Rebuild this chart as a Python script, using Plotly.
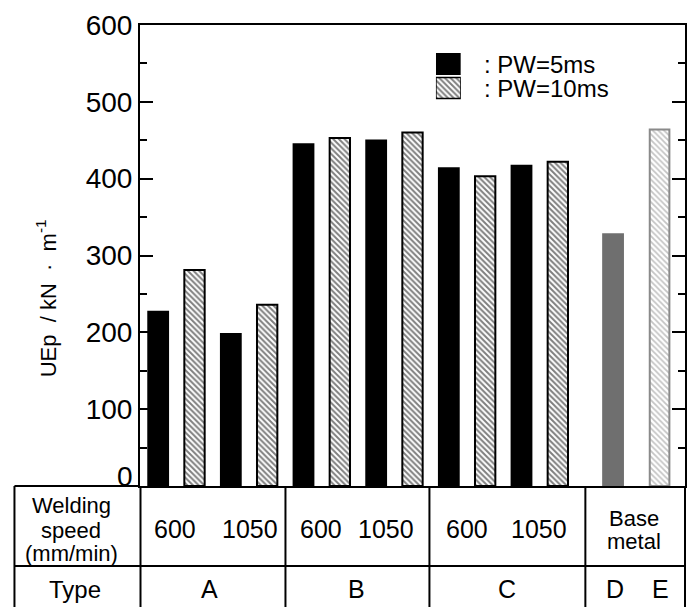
import plotly.graph_objects as go

# ---------------- data ----------------
pw5_pos = [0, 2, 4, 6, 8, 10]
pw5_vals = [228, 199, 446, 451, 415, 418]
pw10_pos = [1, 3, 5, 7, 9, 11]
pw10_vals = [281, 236, 453, 460, 403, 422]
base_d_pos = [12.52]
base_d_vals = [329]
base_e_pos = [13.8]
base_e_vals = [464]

y_ticks = [100, 200, 300, 400, 500, 600]
y_ticktext = ["100", "200", "300", "400", "500", "600"]

speed_labels = ["600", "1050", "600", "1050", "600", "1050"]
speed_pos = [0.47, 2.52, 4.49, 6.28, 8.5, 10.48]
type_labels = ["A", "B", "C", "D", "E"]
type_pos = [1.4, 5.45, 9.6, 12.58, 13.82]

FONT = "Liberation Sans, Arial, sans-serif"
W, H = 693, 607
L, R, T, B = 140, 6, 25, 121
PW = W - L - R
PH = H - T - B


def px_x(px):
    return (px - L) / PW


def px_y(py):
    return (H - B - py) / PH


hatch_black = dict(shape="\\", size=4, solidity=0.5, fgcolor="black", bgcolor="white")
hatch_gray = dict(shape="\\", size=4, solidity=0.45, fgcolor="#8a8a8a", bgcolor="white")

fig = go.Figure()

fig.add_trace(go.Bar(x=pw5_pos, y=pw5_vals, width=0.6, name=": PW=5ms",
                     marker=dict(color="black", line=dict(width=0)),
                     showlegend=False))
fig.add_trace(go.Bar(x=pw10_pos, y=pw10_vals, width=0.56, name=": PW=10ms",
                     marker=dict(color="white", pattern=hatch_black,
                                 line=dict(color="black", width=2)),
                     showlegend=False))
fig.add_trace(go.Bar(x=base_d_pos, y=base_d_vals, width=0.6, name="D",
                     marker=dict(color="#6f6f6f", line=dict(width=0)),
                     showlegend=False))
fig.add_trace(go.Bar(x=base_e_pos, y=base_e_vals, width=0.54, name="E",
                     marker=dict(color="white", pattern=hatch_gray,
                                 line=dict(color="#8a8a8a", width=2)),
                     showlegend=False))

# legend swatches drawn as bars on a small overlay axis
fig.add_trace(go.Bar(y=[1], x=[1], orientation="h", width=0.92, xaxis="x2", yaxis="y2",
                     marker=dict(color="black", line=dict(width=0)), showlegend=False,
                     hoverinfo="skip"))
fig.add_trace(go.Bar(y=[0], x=[1], orientation="h", width=0.88, xaxis="x2", yaxis="y2",
                     marker=dict(color="white", pattern=hatch_black,
                                 line=dict(color="black", width=1.5)),
                     showlegend=False, hoverinfo="skip"))

annotations = []
# legend texts
annotations.append(dict(text=": PW=5ms", x=px_x(483), y=px_y(64), xref="paper", yref="paper",
                        xanchor="left", yanchor="middle", showarrow=False,
                        font=dict(size=24, family=FONT, color="black")))
annotations.append(dict(text=": PW=10ms", x=px_x(483), y=px_y(88), xref="paper", yref="paper",
                        xanchor="left", yanchor="middle", showarrow=False,
                        font=dict(size=24, family=FONT, color="black")))
# y zero label
annotations.append(dict(text="0", x=px_x(135), y=px_y(476), xref="paper", yref="paper",
                        xanchor="right", yanchor="middle", showarrow=False,
                        font=dict(size=28, family=FONT, color="black")))
# y axis title
nb = "\u00a0"
annotations.append(dict(text=f"UEp{nb}{nb}/{nb}kN{nb}{nb}·{nb}{nb}m<sup>-1</sup>",
                        x=px_x(46), y=px_y(298), xref="paper", yref="paper",
                        textangle=-90, xanchor="center", yanchor="middle", showarrow=False,
                        font=dict(size=22, family=FONT, color="black")))
# table row header texts
for txt, py in [("Welding", 506), ("speed", 530), ("(mm/min)", 553)]:
    annotations.append(dict(text=txt, x=px_x(71), y=px_y(py), xref="paper", yref="paper",
                            xanchor="center", yanchor="middle", showarrow=False,
                            font=dict(size=22, family=FONT, color="black")))
annotations.append(dict(text="Type", x=px_x(75), y=px_y(589), xref="paper", yref="paper",
                        xanchor="center", yanchor="middle", showarrow=False,
                        font=dict(size=24, family=FONT, color="black")))
for txt, xp in zip(speed_labels, speed_pos):
    annotations.append(dict(text=txt, x=xp, y=px_y(529), xref="x", yref="paper",
                            xanchor="center", yanchor="middle", showarrow=False,
                            font=dict(size=25, family=FONT, color="black")))
for txt, py in [("Base", 518), ("metal", 541)]:
    annotations.append(dict(text=txt, x=px_x(636), y=px_y(py), xref="paper", yref="paper",
                            xanchor="center", yanchor="middle", showarrow=False,
                            font=dict(size=22, family=FONT, color="black")))
for txt, xp in zip(type_labels, type_pos):
    annotations.append(dict(text=txt, x=xp, y=px_y(589), xref="x", yref="paper",
                            xanchor="center", yanchor="middle", showarrow=False,
                            font=dict(size=25, family=FONT, color="black")))

# table lines
line = dict(color="black", width=2)
shapes = []
tl, tr = px_x(14), px_x(687)
ytop, ymid, ybot = px_y(486), px_y(566), px_y(612)
shapes.append(dict(type="line", xref="paper", yref="paper", x0=tl, x1=0, y0=ytop, y1=ytop, line=line))
shapes.append(dict(type="line", xref="paper", yref="paper", x0=tl, x1=tr, y0=ymid, y1=ymid, line=line))
for xp in [14, 140.5, 286, 430.5, 587, 687]:
    shapes.append(dict(type="line", xref="paper", yref="paper", x0=px_x(xp), x1=px_x(xp),
                       y0=ytop, y1=ybot, line=line))

fig.update_layout(
    width=W, height=H, autosize=False,
    margin=dict(l=L, r=R, t=T, b=B, pad=0),
    paper_bgcolor="white", plot_bgcolor="white",
    barmode="overlay",
    showlegend=False,
    font=dict(family=FONT, color="black"),
    xaxis=dict(range=[-0.5, 14.5], showline=True, linewidth=2, linecolor="black",
               mirror=True, showticklabels=False, ticks="", showgrid=False, zeroline=False,
               fixedrange=True),
    yaxis=dict(range=[0, 600], tickvals=y_ticks, ticktext=y_ticktext,
               showline=True, linewidth=2, linecolor="black", mirror="allticks",
               ticks="inside", ticklen=13, tickwidth=1.5, tickcolor="black",
               minor=dict(ticks="inside", ticklen=7, tickwidth=1.5, tickcolor="black",
                          dtick=50, tick0=0, showgrid=False),
               tickfont=dict(size=28, family=FONT, color="black"),
               showgrid=False, zeroline=False, fixedrange=True),
    xaxis2=dict(domain=[px_x(437), px_x(462)], range=[0, 1], anchor="y2", visible=False,
                fixedrange=True),
    yaxis2=dict(domain=[px_y(100), px_y(52)], range=[-0.5, 1.5], anchor="x2", visible=False,
                fixedrange=True),
    annotations=annotations,
    shapes=shapes,
)

fig.write_html("out.html", config={"displayModeBar": False},
               post_script="document.body.style.margin='0';document.body.style.overflow='hidden';")
